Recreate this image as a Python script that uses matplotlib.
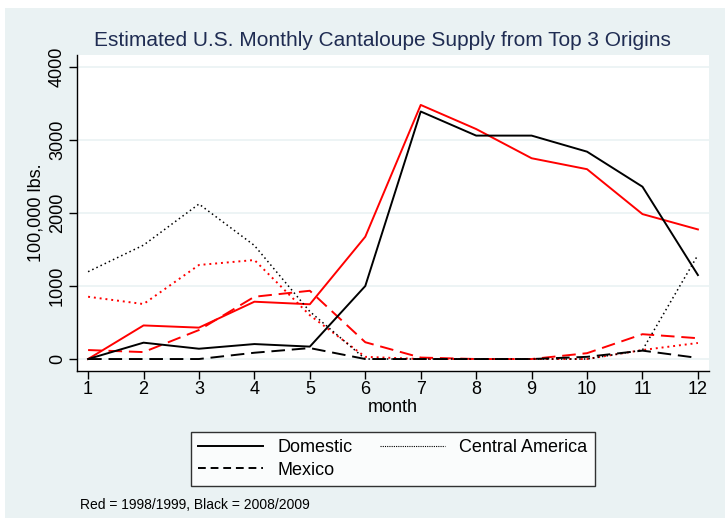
import matplotlib.pyplot as plt
from matplotlib.lines import Line2D
from matplotlib.patches import Rectangle

plt.rcParams["font.family"] = ["Liberation Sans", "DejaVu Sans"]

months = list(range(1, 13))

# 2008/2009 (black)
domestic_0809 = [0, 224, 141, 205, 170, 1000, 3390, 3060, 3060, 2840, 2360, 1150]
central_0809 = [1196, 1560, 2123, 1555, 650, 0, 0, 0, 0, 0, 123, 1425]
mexico_0809 = [0, 0, 0, 86, 150, 0, 0, 0, 0, 30, 115, 15]

# 1998/1999 (red)
domestic_9899 = [0, 460, 430, 785, 750, 1675, 3480, 3150, 2750, 2600, 1985, 1775]
central_9899 = [853, 753, 1288, 1356, 600, 30, 0, 0, 0, 0, 123, 220]
mexico_9899 = [123, 95, 397, 853, 935, 230, 20, 0, 0, 80, 340, 285]

y_ticks = [0, 1000, 2000, 3000, 4000]

bg = "#eaf2f3"

fig = plt.figure(figsize=(7.25, 5.29), dpi=100)
fig.patch.set_facecolor("white")
fig.patches.append(Rectangle((5 / 725, 11 / 529), 720 / 725, 510 / 529,
                             transform=fig.transFigure, facecolor=bg,
                             edgecolor="none", zorder=-10))

ax = fig.add_axes([77 / 725, (529 - 371) / 529, 632 / 725, 316 / 529])
ax.set_facecolor("white")

dash = (0, (7, 3.5))
dot = (0, (1, 2))
lw = 1.4

ax.plot(months, domestic_9899, color="red", lw=lw)
ax.plot(months, central_9899, color="red", lw=lw, linestyle=dot)
ax.plot(months, mexico_9899, color="red", lw=lw, linestyle=dash)
ax.plot(months, domestic_0809, color="black", lw=lw)
ax.plot(months, central_0809, color="black", lw=1.1, linestyle=dot)
ax.plot(months, mexico_0809, color="black", lw=lw, linestyle=dash)

ax.set_xlim(0.8, 12.2)
ax.set_ylim(-164, 4164)
ax.set_xticks(months)
ax.set_yticks(y_ticks)
ax.set_yticklabels([str(v) for v in y_ticks], rotation=90, va="center")
for v in y_ticks:
    ax.axhline(v, color=bg, lw=1.2, zorder=0)

for s in ["top", "right"]:
    ax.spines[s].set_visible(False)
ax.spines["left"].set_linewidth(1.0)
ax.spines["bottom"].set_linewidth(1.0)
ax.tick_params(axis="both", labelsize=13, length=6, width=1, direction="out")
ax.tick_params(axis="x", pad=1)
ax.tick_params(axis="y", pad=2)

ax.set_xlabel("month", fontsize=13, labelpad=1)
ax.set_ylabel("100,000 lbs.", fontsize=13, labelpad=3)

fig.text(0.5 * (88 + 676) / 725, 1 - 40 / 529,
         "Estimated U.S. Monthly Cantaloupe Supply from Top 3 Origins",
         color="#1f2c52", fontsize=15, ha="center", va="center")

handles = [
    Line2D([], [], color="black", lw=lw),
    Line2D([], [], color="black", lw=lw, linestyle=(0, (4, 2.5))),
    Line2D([], [], color="black", lw=0.8, linestyle=(0, (1, 1))),
]
labels = ["Domestic", "Mexico", "Central America"]
leg = fig.legend(handles, labels, ncol=2, loc="center",
                 bbox_to_anchor=(393 / 725, 1 - 459 / 529),
                 fontsize=13, frameon=True, fancybox=False, handlelength=3.6,
                 columnspacing=1.5, borderpad=0.4, labelspacing=0.3,
                 handletextpad=0.8)
leg.get_frame().set_edgecolor("black")
leg.get_frame().set_linewidth(1.0)

fig.text(80 / 725, 1 - 505 / 529, "Red = 1998/1999, Black = 2008/2009",
         fontsize=10, ha="left", va="center")

fig.savefig("out.png", dpi=100)
